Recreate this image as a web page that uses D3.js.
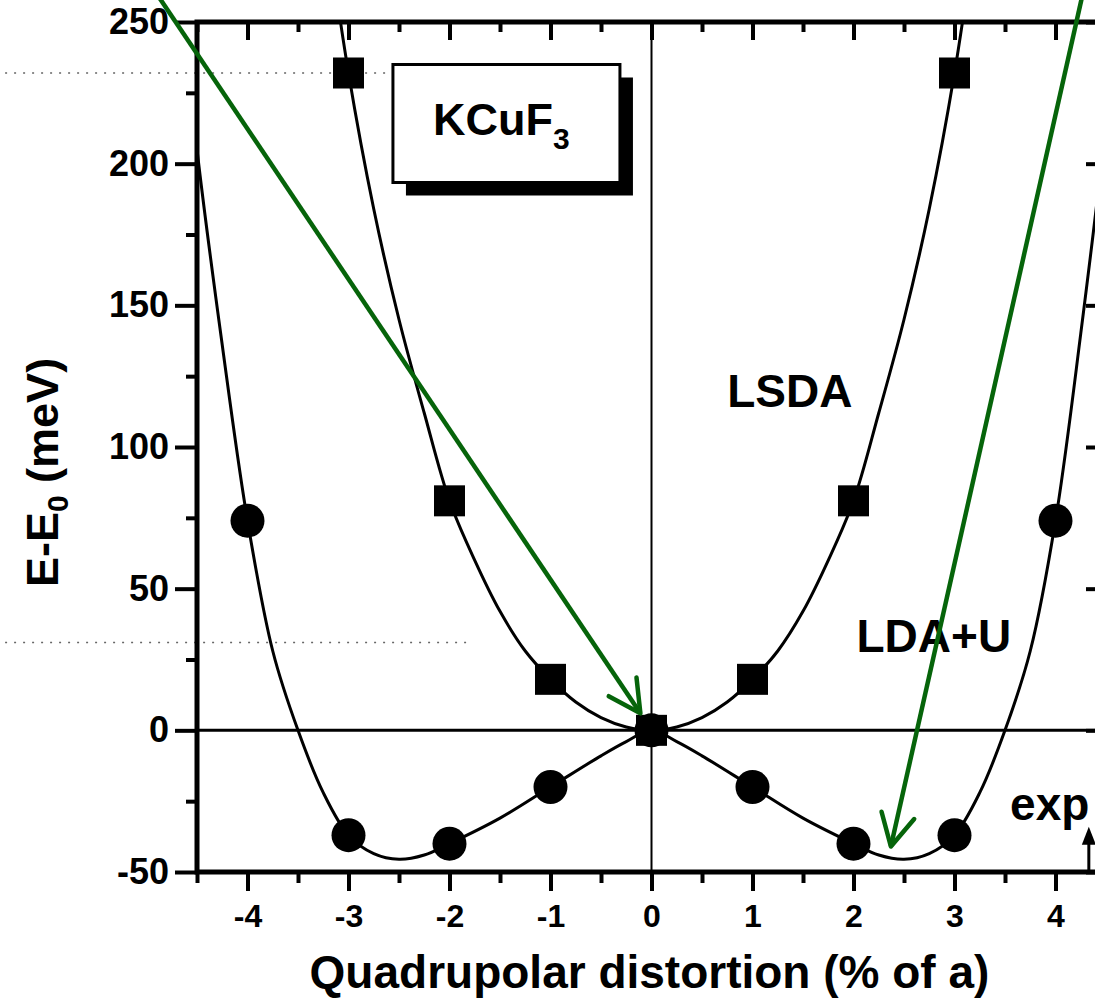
<!DOCTYPE html>
<html>
<head>
<meta charset="utf-8">
<script src="https://cdn.jsdelivr.net/npm/d3@7"></script>
<style>
  html, body { margin: 0; padding: 0; background: #fff; }
  svg text { font-family: "Liberation Sans", Arial, Helvetica, sans-serif; font-weight: bold; fill: #000; }
</style>
</head>
<body>
<div id="chart"></div>
<script>
// --- 1. DATA ---
// LDA+U points (circles)
const ldauX = [-4, -3, -2, -1, 0, 1, 2, 3, 4];
const ldauE = [74, -37, -40, -20, 0, -20, -40, -37, 74];
// LSDA points (squares)
const lsdaX = [-3, -2, -1, 0, 1, 2, 3];
const lsdaE = [232, 81, 18, 0, 18, 81, 232];

// fitted curves
const ldauFitX = [-4.6, -4.5, -4.25, -4, -3.75, -3.5, -3.25, -3, -2.75, -2.5, -2.25, -2, -1.5, -1, -0.5, -0.25, 0,
                  0.25, 0.5, 1, 1.5, 2, 2.25, 2.5, 2.75, 3, 3.25, 3.5, 3.75, 4, 4.25, 4.5, 4.6];
const ldauFitE = [240, 205, 136, 74, 28, 0, -22, -37, -43.5, -45.5, -44, -40, -31, -20, -9, -4, 0,
                  -4, -9, -20, -31, -40, -44, -45.5, -43.5, -37, -22, 0, 28, 74, 140, 215, 255];
const lsdaFitX = [-3.2, -3, -2.75, -2.5, -2.25, -2, -1.75, -1.5, -1.25, -1, -0.75, -0.5, -0.25, 0,
                  0.25, 0.5, 0.75, 1, 1.25, 1.5, 1.75, 2, 2.25, 2.5, 2.75, 3, 3.2];
const lsdaFitE = [280, 232, 184, 145, 112, 81, 60, 42, 28, 18, 10, 4.5, 1.2, 0,
                  1.2, 4.5, 10, 18, 28, 42, 60, 81, 112, 145, 184, 232, 280];

// axis ticks
const xMajor = [-4, -3, -2, -1, 0, 1, 2, 3, 4];
const xMinor = [-4.5, -3.5, -2.5, -1.5, -0.5, 0.5, 1.5, 2.5, 3.5, 4.5];
const yMajor = [-50, 0, 50, 100, 150, 200, 250];
const yMinor = [-25, 25, 75, 125, 175, 225];

// green annotation arrows [fromX, fromE, toX, toE]
const greenArrows = [
    [-4.9, 260, -0.11, 6],
    [4.27, 260, 2.37, -41]
];
// experimental marker arrow
const expArrow = [4.33, -50, 4.33, -34];

// --- 2. SETUP ---
const W = 1095, H = 998;
const svg = d3.select("#chart").append("svg")
    .attr("width", W)
    .attr("height", H)
    .style("background", "#fff");

const x = d3.scaleLinear().domain([-4.5, 4.5]).range([197, 1106]);
const y = d3.scaleLinear().domain([-50, 250]).range([872, 22]);

svg.append("clipPath").attr("id", "plotClip")
  .append("rect")
    .attr("x", x(-4.5)).attr("y", y(250))
    .attr("width", x(4.5) - x(-4.5)).attr("height", y(-50) - y(250));

// scan artefact dotted lines
[[232, -6.4, -0.3], [31, -6.4, -1.8]].forEach(([e, a, b]) => {
    svg.append("line")
        .attr("x1", x(a)).attr("x2", x(b))
        .attr("y1", y(e)).attr("y2", y(e))
        .attr("stroke", "#666").attr("stroke-width", 1.5)
        .attr("stroke-dasharray", "2,7");
});

// --- 3. ZERO LINES ---
svg.append("line")
    .attr("x1", x(-4.5)).attr("x2", x(4.5))
    .attr("y1", y(0)).attr("y2", y(0))
    .attr("stroke", "#000").attr("stroke-width", 3);
svg.append("line")
    .attr("x1", x(0)).attr("x2", x(0))
    .attr("y1", y(250)).attr("y2", y(-50))
    .attr("stroke", "#000").attr("stroke-width", 2);

// --- 4. AXES ---
function styleAxis(g, width) {
    g.select(".domain").remove();
    g.selectAll(".tick line").attr("stroke", "#000").attr("stroke-width", width);
}
const fmt = d => String(d);

// bottom
svg.append("g").attr("transform", `translate(0,${y(-50)})`)
    .call(d3.axisBottom(x).tickValues(xMinor).tickSize(11).tickFormat(""))
    .call(g => styleAxis(g, 4));
svg.append("g").attr("transform", `translate(0,${y(-50)})`)
    .call(d3.axisBottom(x).tickValues(xMajor).tickSize(19).tickPadding(13).tickFormat(fmt))
    .call(g => styleAxis(g, 4))
    .call(g => g.selectAll("text").attr("font-size", 32).attr("font-family", null));
// top (inward)
svg.append("g").attr("transform", `translate(0,${y(250)})`)
    .call(d3.axisTop(x).tickValues(xMinor).tickSize(-10).tickFormat(""))
    .call(g => styleAxis(g, 4));
svg.append("g").attr("transform", `translate(0,${y(250)})`)
    .call(d3.axisTop(x).tickValues(xMajor).tickSize(-18).tickFormat(""))
    .call(g => styleAxis(g, 4));
// left
svg.append("g").attr("transform", `translate(${x(-4.5)},0)`)
    .call(d3.axisLeft(y).tickValues(yMinor).tickSize(11).tickFormat(""))
    .call(g => styleAxis(g, 4));
svg.append("g").attr("transform", `translate(${x(-4.5)},0)`)
    .call(d3.axisLeft(y).tickValues(yMajor).tickSize(22).tickPadding(6).tickFormat(fmt))
    .call(g => styleAxis(g, 4))
    .call(g => g.selectAll("text").attr("font-size", 36).attr("font-family", null));
// right (inward)
svg.append("g").attr("transform", `translate(${x(4.5)},0)`)
    .call(d3.axisRight(y).tickValues(yMinor).tickSize(-11).tickFormat(""))
    .call(g => styleAxis(g, 4));
svg.append("g").attr("transform", `translate(${x(4.5)},0)`)
    .call(d3.axisRight(y).tickValues(yMajor).tickSize(-20).tickFormat(""))
    .call(g => styleAxis(g, 4));

// frame
svg.append("rect")
    .attr("x", x(-4.5)).attr("y", y(250))
    .attr("width", x(4.5) - x(-4.5)).attr("height", y(-50) - y(250))
    .attr("fill", "none").attr("stroke", "#000").attr("stroke-width", 5);

// --- 5. CURVES ---
const line = d3.line()
    .x(d => x(d[0]))
    .y(d => y(d[1]))
    .curve(d3.curveCatmullRom.alpha(0.5));

const plot = svg.append("g").attr("clip-path", "url(#plotClip)");
plot.append("path")
    .attr("d", line(d3.zip(lsdaFitX, lsdaFitE)))
    .attr("fill", "none").attr("stroke", "#000").attr("stroke-width", 3);
plot.append("path")
    .attr("d", line(d3.zip(ldauFitX, ldauFitE)))
    .attr("fill", "none").attr("stroke", "#000").attr("stroke-width", 3);

// --- 6. MARKERS ---
const sq = 31;
plot.selectAll("rect.sq")
    .data(d3.zip(lsdaX, lsdaE))
    .enter().append("rect")
    .attr("class", "sq")
    .attr("x", d => x(d[0]) - sq / 2)
    .attr("y", d => y(d[1]) - sq / 2)
    .attr("width", sq).attr("height", sq)
    .attr("fill", "#000");
plot.selectAll("circle.ci")
    .data(d3.zip(ldauX, ldauE))
    .enter().append("circle")
    .attr("class", "ci")
    .attr("cx", d => x(d[0]))
    .attr("cy", d => y(d[1]))
    .attr("r", 17)
    .attr("fill", "#000");

// --- 7. LABELS ---
// KCuF3 box with shadow
const bx = x(-2.56), by = y(235), bw = 227, bh = 118;
svg.append("rect").attr("x", bx + 13).attr("y", by + 13).attr("width", bw).attr("height", bh).attr("fill", "#000");
svg.append("rect").attr("x", bx).attr("y", by).attr("width", bw).attr("height", bh)
    .attr("fill", "#fff").attr("stroke", "#000").attr("stroke-width", 3);
const kt = svg.append("text").attr("x", bx + 40).attr("y", by + 70).attr("font-size", 45);
kt.append("tspan").text("KCuF");
kt.append("tspan").attr("font-size", 30).attr("dy", 14).text("3");

svg.append("text").attr("x", x(0.75)).attr("y", y(114)).attr("font-size", 46).text("LSDA");
svg.append("text").attr("x", x(2.03)).attr("y", y(27.5)).attr("font-size", 46).text("LDA+U");
svg.append("text").attr("x", x(3.55)).attr("y", y(-31.5)).attr("font-size", 46).text("exp");

// axis titles
svg.append("text")
    .attr("x", x(-0.02)).attr("y", 988)
    .attr("text-anchor", "middle")
    .attr("font-size", 46)
    .text("Quadrupolar distortion (% of a)");

const yt = svg.append("text")
    .attr("transform", `translate(58,${y(91)}) rotate(-90)`)
    .attr("text-anchor", "middle")
    .attr("font-size", 45);
yt.append("tspan").text("E-E");
yt.append("tspan").attr("font-size", 30).attr("dy", 10).text("0");
yt.append("tspan").attr("dy", -10).text(" (meV)");

// --- 8. ARROWS ---
// experimental arrow (black, filled head)
svg.append("line")
    .attr("x1", x(expArrow[0])).attr("y1", y(expArrow[1]))
    .attr("x2", x(expArrow[2])).attr("y2", y(expArrow[3]) + 10)
    .attr("stroke", "#000").attr("stroke-width", 3);
svg.append("path")
    .attr("d", `M${x(expArrow[2])},${y(expArrow[3])} l-7,18 l14,0 Z`)
    .attr("fill", "#000");

// green annotation arrows
greenArrows.forEach(([fx, fe, tx, te]) => {
    const x1 = x(fx), y1 = y(fe), x2 = x(tx), y2 = y(te);
    const ang = Math.atan2(y2 - y1, x2 - x1);
    const len = 36, spread = Math.PI / 6.5;
    const b1 = [x2 - len * Math.cos(ang - spread), y2 - len * Math.sin(ang - spread)];
    const b2 = [x2 - len * Math.cos(ang + spread), y2 - len * Math.sin(ang + spread)];
    svg.append("line")
        .attr("x1", x1).attr("y1", y1).attr("x2", x2).attr("y2", y2)
        .attr("stroke", "#06640a").attr("stroke-width", 4.5);
    svg.append("path")
        .attr("d", `M${b1[0]},${b1[1]} L${x2},${y2} L${b2[0]},${b2[1]}`)
        .attr("fill", "none").attr("stroke", "#06640a").attr("stroke-width", 4.5)
        .attr("stroke-linecap", "round").attr("stroke-linejoin", "round");
});
</script>
</body>
</html>
